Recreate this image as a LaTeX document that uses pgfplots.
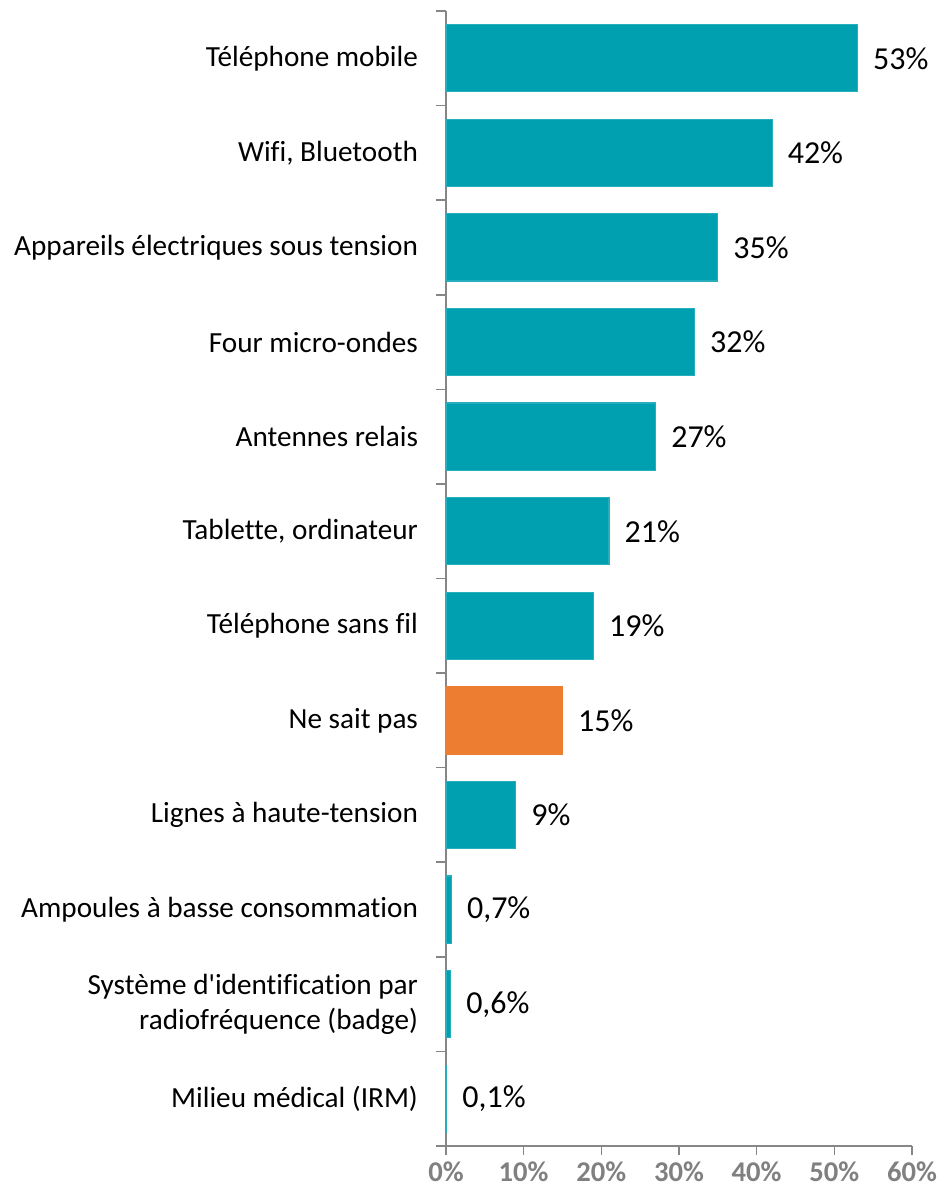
\documentclass[border=0pt]{standalone}
\usepackage{pgfplots}
\pgfplotsset{compat=1.18}
\usepackage{pgfplotstable}
\usepackage{fontspec}
\setmainfont{Carlito}[Ligatures={TeXOff,NoCommon}]

\definecolor{barteal}{RGB}{0,160,176}
\definecolor{barorange}{RGB}{237,125,49}
\definecolor{axisgray}{RGB}{134,134,134}
\definecolor{tickgray}{RGB}{128,128,128}

% share of respondents (%), one row per source; y = row from the top
\pgfplotstableread{
x    y  lab
53   0  53
42   1  42
35   2  35
32   3  32
27   4  27
21   5  21
19   6  19
9    8  9
0.7  9  0,7
0.6  10 0,6
0.1  11 0,1
}\sources
\pgfplotstableread{
x    y  lab
15   7  15
}\dontknow

\begin{document}
\begin{tikzpicture}
\useasboundingbox (-223pt,-22pt) rectangle (245.5pt,573pt);
\begin{axis}[
  at={(0,0)}, anchor=south west,
  scale only axis, width=233pt, height=567.5pt,
  xmin=0, xmax=60, ymin=-0.5, ymax=11.5, y dir=reverse,
  xbar, bar width=0.71, bar shift=0pt,
  axis x line*=bottom, axis y line*=left,
  axis line style={axisgray, line width=0.8pt},
  tick align=outside, major tick length=4.5pt, minor tick length=5pt,
  tick style={axisgray, line width=0.8pt},
  xtick={0,10,...,60},
  xticklabels={0\%,10\%,20\%,30\%,40\%,50\%,60\%},
  xticklabel style={font=\fontsize{14.3}{16}\selectfont\bfseries,
    text=tickgray, yshift=-2.2pt, inner sep=1pt},
  ytick={0,...,11},
  major y tick style={draw=none},
  minor ytick={-0.5,0.5,...,11.5},
  yticklabels={
    Téléphone mobile,
    {Wifi, Bluetooth},
    Appareils électriques sous tension,
    Four micro-ondes,
    Antennes relais,
    {Tablette, ordinateur},
    Téléphone sans fil,
    Ne sait pas,
    Lignes à haute-tension,
    Ampoules à basse consommation,
    {Système d'identification par\\radiofréquence (badge)},
    Milieu médical (IRM)},
  yticklabel style={font=\fontsize{14.6}{17.5}\selectfont, align=right,
    text=black, xshift=-6pt},
  point meta=explicit symbolic,
  nodes near coords={\pgfplotspointmeta\%},
  every node near coord/.append style={font=\fontsize{16}{19}\selectfont,
    anchor=west, inner sep=0pt, xshift=7.5pt, text=black},
  clip=false,
]
\addplot[fill=barteal, draw=barteal!85!white, line width=0.6pt]
  table[x=x, y=y, meta=lab] {\sources};
\addplot[fill=barorange, draw=barorange, line width=0.6pt]
  table[x=x, y=y, meta=lab] {\dontknow};
\end{axis}
\end{tikzpicture}
\end{document}
